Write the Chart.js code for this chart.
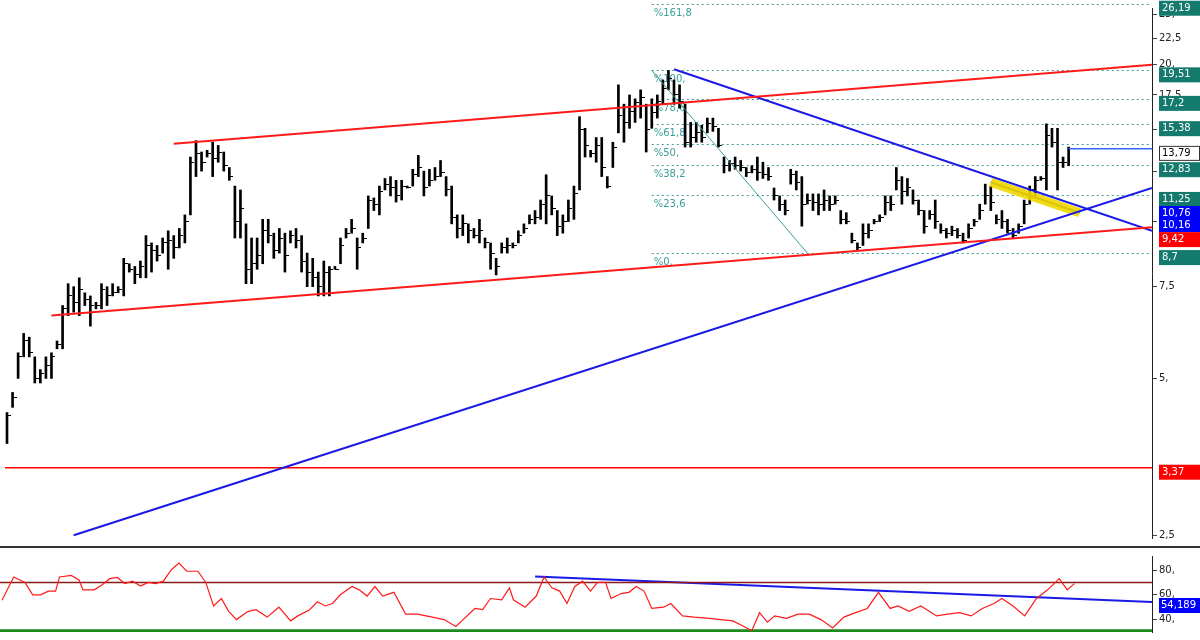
<!DOCTYPE html>
<html>
<head>
<meta charset="utf-8">
<script src="https://cdn.jsdelivr.net/npm/chart.js@4/dist/chart.umd.min.js"></script>
<style>
  html, body { margin: 0; padding: 0; background: #fff; }
  #main { position: relative; width: 1200px; height: 546px; }
  #rsi { position: relative; width: 1200px; height: 92px; border-top: 2px solid #333; }
</style>
</head>
<body>
<div id="main"><canvas id="priceChart"></canvas></div>
<div id="rsi"><canvas id="rsiChart"></canvas></div>
<script>
// price bars (weekly)
const highs = [4.3,4.7,5.6,6.1,6.0,5.5,5.2,5.5,5.6,5.9,6.9,7.6,7.5,7.8,7.3,7.2,7.0,7.6,7.5,7.6,7.5,8.5,8.3,8.2,8.4,9.4,9.1,9.0,9.3,9.6,9.4,9.7,10.3,13.3,14.3,13.6,13.7,14.2,14.0,13.6,12.7,11.7,11.5,9.9,9.3,9.3,10.1,10.1,9.5,9.7,9.5,9.6,9.7,9.4,8.7,8.5,8.0,8.4,8.2,
  8.2,9.3,9.7,10.1,9.3,9.5,11.2,11.1,11.7,12.1,12.2,12.0,12.0,11.7,12.6,13.4,12.5,12.6,12.7,13.1,12.2,11.7,10.3,10.3,9.9,9.7,10.1,9.3,9.1,8.5,9.1,9.3,9.1,9.6,9.9,10.3,10.5,11.0,12.3,11.2,
  10.5,10.3,11.0,11.7,15.9,15.1,13.7,14.5,14.5,12.2,14.2,18.3,16.8,17.5,17.2,17.9,16.8,17.2,17.5,18.7,19.5,18.7,18.3,16.8,
  15.5,15.5,15.3,15.8,15.8,15.1,13.3,13.1,13.3,13.1,12.7,12.8,13.3,13.0,12.7,11.6,11.2,11.0,12.6,12.5,12.2,11.3,11.3,11.3,11.5,11.2,11.2,10.5,10.4,9.5,9.1,9.9,9.9,10.1,10.3,11.2,11.2,12.7,12.2,12.1,11.5,11.0,10.5,10.5,11.0,9.9,9.7,9.8,9.7,9.5,9.9,10.1,10.8,11.8,11.7,10.3,10.5,10.1,9.7,9.9,11.0,11.7,12.2,12.2,15.4,15.1,15.1,13.3,13.9];
const lows = [3.75,4.4,5.0,5.5,5.5,4.9,4.9,5.0,5.0,5.7,5.7,6.6,6.7,6.6,6.9,6.3,6.8,6.8,6.9,7.2,7.3,7.2,8.0,7.6,7.8,7.8,8.0,8.4,8.7,8.1,8.5,8.9,9.1,10.3,12.2,12.5,13.3,12.2,13.0,12.5,12.0,9.3,9.3,7.6,7.6,8.1,8.3,9.1,8.5,8.7,8.0,9.1,8.9,8.0,7.5,7.5,7.2,7.2,7.2,
  8.1,8.3,9.3,9.5,8.1,9.1,9.7,10.5,10.3,11.5,11.2,10.9,11.0,11.6,11.7,12.2,11.2,11.7,12.0,12.2,11.2,9.9,9.3,9.4,9.1,9.3,9.1,8.9,8.1,7.9,8.7,8.7,8.9,9.1,9.5,9.9,9.9,10.1,9.9,10.3,
  9.4,9.5,10.0,10.1,11.5,13.3,13.3,13.0,12.2,11.6,12.7,14.8,14.2,15.1,15.5,15.8,13.6,15.1,15.8,16.8,17.9,16.8,16.5,13.9,
  13.9,14.2,14.2,14.8,14.9,13.9,12.4,12.5,12.6,12.5,12.2,12.4,12.0,12.1,12.0,11.0,10.5,10.3,11.8,11.5,9.8,10.8,10.5,10.3,10.5,10.5,10.8,9.9,9.9,9.1,8.8,9.0,9.3,9.9,10.0,10.3,10.5,11.5,10.8,11.2,10.8,10.3,9.5,10.1,9.7,9.5,9.3,9.4,9.3,9.1,9.3,9.8,10.1,10.8,10.5,9.9,9.7,9.5,9.3,9.5,9.9,10.8,11.2,12.0,11.5,13.9,11.5,12.7,12.8];
const closes = [4.25,4.6,5.5,5.9,5.6,5.0,5.1,5.3,5.5,5.8,6.8,7.2,7.0,7.4,7.1,6.9,6.9,7.4,7.2,7.3,7.4,8.3,8.1,7.9,8.2,9.0,8.8,8.6,9.1,9.2,8.9,9.4,10.0,13.0,13.5,13.0,13.5,13.2,13.6,12.8,12.2,10.0,10.6,8.1,8.3,8.6,9.6,9.4,8.8,9.3,8.6,9.4,9.2,8.4,8.0,7.8,7.5,8.0,8.1,
  8.1,9.0,9.5,9.7,8.9,9.3,11.0,10.8,11.4,11.8,11.6,11.2,11.7,11.6,12.3,12.7,11.6,12.0,12.2,12.4,11.5,10.2,9.7,9.9,9.6,9.4,9.6,9.1,8.7,8.2,8.9,9.0,9.0,9.4,9.7,10.1,10.2,10.8,11.2,10.6,
  9.8,10.0,10.6,11.3,15.0,14.0,13.5,14.0,12.7,11.7,13.9,16.0,15.5,16.3,16.9,17.3,15.0,16.2,17.0,18.0,18.8,17.5,17.0,14.2,
  14.5,14.8,14.5,15.4,15.2,14.0,12.8,12.9,12.8,12.7,12.4,12.6,12.4,12.3,12.2,11.2,10.8,10.5,12.3,11.9,10.8,11.0,10.9,10.8,11.0,10.8,11.0,10.1,10.0,9.2,8.9,9.5,9.6,10.0,10.2,10.9,10.8,12.0,11.4,11.6,11.0,10.5,9.8,10.3,10.0,9.6,9.5,9.6,9.4,9.2,9.7,10.0,10.5,11.2,10.9,10.1,10.0,9.6,9.4,9.8,10.8,11.5,12.0,12.1,14.6,14.2,13.0,13.0,13.79];

// RSI line: bar position and value
const rsiBars = [0,2.1,4.1,5.5,6.9,8.3,9.6,10.3,12.4,13.8,14.5,16.5,17.9,19.3,20.7,22.0,23.4,24.8,26.2,27.5,28.9,30.3,31.7,33.1,35.1,36.5,37.9,39.3,40.6,42.0,44.1,45.5,47.5,49.6,51.7,53.0,55.1,56.5,57.9,59.2,60.6,62.7,64.0,65.4,66.8,68.2,70.2,72.3,74.4,77.1,79.2,81.3,82.6,84.7,86.1,87.5,89.5,90.9,91.6,93.7,95.7,97.1,98.5,99.9,101.2,102.6,104.0,105.4,106.7,108.1,109.1,110.9,112.3,113.6,115.0,116.4,118.5,119.8,121.9,124.0,126.7,128.8,130.9,132.9,134.3,135.7,137.1,138.4,140.5,142.6,144.6,146.7,148.8,150.8,152.9,155.0,157.0,159.1,160.5,162.5,164.6,167.4,169.4,171.5,173.6,175.6,177.7,179.1,181.1,183.2,185.3,187.3,189.4,190.8,192.1];
const rsiValues = [55.6,74.4,70,60,60,63,63,74.4,75.6,72,64,64,68,73,74,69,71,67,70,69,71,80,85.6,79,79,70,51,57,46.7,40,46.7,48,42,50,39,43,48,54.4,51,53,60,66.7,64,59,66.7,59,62,44.4,44.4,42,40,34.4,40,49,48,57,56,65.6,56,50,59,74.4,65.6,63,53,66.7,71,63,70,70,57,61,62,66.7,63,49,50,53,43,42,41,40,39,34.4,31,45.6,38,43,41,44.4,44.4,40,33.3,42,45.6,49,62,49,51,46.7,51,43,44.4,45.6,43,49,53,57,51,43,57,64,73,64,69];

// fibonacci retracement
const fibLevels = [0, 23.6, 38.2, 50, 61.8, 78.6, 100, 161.8];
const fibLow = 8.7, fibHigh = 19.51;
const fibStartBar = 116;

// trend lines [bar, price]
const upperChannel = [[30, 14.1], [206, 20.0]];
const lowerChannel = [[8, 6.6], [206, 9.75]];
const risingLine = [[12, 2.5], [206, 11.6]];
const fallingLine = [[120, 19.6], [206, 9.6]];
const fibDiagonal = [[116, 19.5], [144, 8.7]];
const breakLine = [[177, 11.9], [193, 10.4]];
const lastPrice = 13.79;
const supportLevel = 3.37;
const rsiTrend = [[95.5, 74.7], [206, 54.2]];

// price-axis tags: value, text, colour
const tagValues = [26.19, 19.51, 17.2, 15.38, 13.79, 12.83, 11.25, 10.16, 9.42, 8.7, 3.37];
const tagTexts = ['26,19', '19,51', '17,2', '15,38', '13,79', '12,83', '11,25', '10,76\n10,16', '9,42', '8,7', '3,37'];
const tagColors = ['#147a6e', '#147a6e', '#147a6e', '#147a6e', '#fff', '#147a6e', '#147a6e', '#0000ff', '#ff0000', '#147a6e', '#ff0000'];

const priceTicks = [2.5, 5, 7.5, 10, 12.5, 15, 17.5, 20, 22.5, 25];
const rsiTicks = [40, 60, 80];

const FONT = '"DejaVu Sans", Verdana, sans-serif';
const fmt = v => String(v).replace('.', ',') + (Number.isInteger(v) ? ',' : '');
const pts = arr => arr.map(p => ({ x: p[0], y: p[1] }));
const X_MIN = -0.36, X_MAX = 206;

// close tick drawn to the right of the bar
const tick = document.createElement('canvas');
tick.width = 8; tick.height = 1;
tick.getContext('2d').fillRect(4, 0, 4, 1);

const n = Math.min(highs.length, lows.length, closes.length);
const barData = [], closeData = [];
for (let i = 0; i < n; i++) {
  barData.push({ x: i, y: [lows[i], highs[i]] });
  closeData.push({ x: i, y: closes[i] });
}

function line(data, color, width, extra) {
  return Object.assign({
    type: 'line', data: pts(data), borderColor: color, borderWidth: width,
    pointRadius: 0, fill: false, tension: 0
  }, extra || {});
}

const overlayPlugin = {
  id: 'overlay',
  beforeDatasetsDraw(chart) {
    const { ctx, chartArea, scales: { x, y } } = chart;
    ctx.save();
    ctx.strokeStyle = '#3a9e9a';
    ctx.fillStyle = '#3a9e9a';
    ctx.lineWidth = 1;
    ctx.setLineDash([2, 3]);
    ctx.font = '10px ' + FONT;
    const x0 = x.getPixelForValue(fibStartBar);
    for (const lv of fibLevels) {
      const v = fibLow + (fibHigh - fibLow) * lv / 100;
      const py = Math.round(y.getPixelForValue(v)) + 0.5;
      ctx.beginPath(); ctx.moveTo(x0, py); ctx.lineTo(chartArea.right, py); ctx.stroke();
      ctx.fillText('%' + fmt(lv), x0 + 2, Math.max(py + 11, 6));
    }
    ctx.restore();
  },
  afterDraw(chart) {
    const { ctx, chartArea, scales: { y } } = chart;
    ctx.save();
    ctx.font = '10px ' + FONT;
    ctx.textBaseline = 'middle';
    const bx = chartArea.right + 7;
    tagValues.forEach((v, i) => {
      const py = y.getPixelForValue(v);
      const two = tagTexts[i].includes('\n');
      const h = two ? 26 : 15;
      const top = two ? py - 12 : py - 3;
      ctx.fillStyle = tagColors[i];
      ctx.fillRect(bx, top, 1200 - bx, h);
      if (tagColors[i] === '#fff') {
        ctx.strokeStyle = '#333'; ctx.strokeRect(bx + 0.5, top + 0.5, 40, h - 1);
        ctx.fillStyle = '#000';
      } else ctx.fillStyle = '#fff';
      tagTexts[i].split('\n').forEach((t, k) => ctx.fillText(t, bx + 3, top + 7.5 + k * 12));
    });
    ctx.restore();
  }
};

new Chart(document.getElementById('priceChart'), {
  data: {
    datasets: [
      { type: 'bar', data: barData, backgroundColor: '#000', barThickness: 2, grouped: false, order: 1 },
      { type: 'scatter', data: closeData, pointStyle: tick, pointRadius: 4, order: 1 },
      line(upperChannel, '#ff1a1a', 2),
      line(lowerChannel, '#ff1a1a', 2),
      line(risingLine, '#1a1ae6', 2),
      line(fallingLine, '#1a1ae6', 2),
      line(fibDiagonal, '#3a9e9a', 1),
      line(breakLine, 'rgba(240,215,0,0.9)', 9),
      line(breakLine, '#222', 2),
      line([[n - 1, lastPrice], [X_MAX, lastPrice]], '#3366ff', 1.5),
      line([[X_MIN, supportLevel], [X_MAX, supportLevel]], '#ff0000', 1.5)
    ]
  },
  options: {
    responsive: true, maintainAspectRatio: false, animation: false,
    layout: { padding: 0 },
    plugins: { legend: { display: false }, tooltip: { enabled: false } },
    scales: {
      x: { type: 'linear', min: X_MIN, max: X_MAX, offset: false, bounds: 'ticks', display: false },
      y: {
        type: 'logarithmic', position: 'right', min: 2.47, max: 25.7,
        afterBuildTicks: s => { s.ticks = priceTicks.map(v => ({ value: v })); },
        afterFit: s => { s.width = 48; },
        border: { color: '#222', width: 1 },
        grid: { drawOnChartArea: false, tickLength: 5, color: '#444' },
        ticks: { color: '#222', font: { size: 10, family: FONT }, padding: 2, callback: v => fmt(v) }
      }
    }
  },
  plugins: [overlayPlugin]
});

const rsiTagPlugin = {
  id: 'rsiTag',
  afterDraw(chart) {
    const { ctx, chartArea, scales: { y } } = chart;
    const py = y.getPixelForValue(rsiTrend[1][1]);
    ctx.save();
    ctx.fillStyle = '#0000ff';
    ctx.fillRect(chartArea.right + 7, py - 4, 60, 15);
    ctx.fillStyle = '#fff';
    ctx.font = '10px ' + FONT;
    ctx.textBaseline = 'middle';
    ctx.fillText('54,189', chartArea.right + 9, py + 3.5);
    ctx.restore();
  }
};

new Chart(document.getElementById('rsiChart'), {
  data: {
    datasets: [
      line(rsiBars.map((b, i) => [b, rsiValues[i]]), '#ff1a1a', 1.2),
      line([[X_MIN, 70], [X_MAX, 70]], '#8b1a1a', 1.5),
      line([[X_MIN, 31], [X_MAX, 31]], '#1a8a1a', 3),
      line(rsiTrend, '#1a1ae6', 2)
    ]
  },
  options: {
    responsive: true, maintainAspectRatio: false, animation: false,
    layout: { padding: 0 },
    plugins: { legend: { display: false }, tooltip: { enabled: false } },
    scales: {
      x: { type: 'linear', min: X_MIN, max: X_MAX, display: false },
      y: {
        position: 'right', min: 30, max: 91.3,
        afterBuildTicks: s => { s.ticks = rsiTicks.map(v => ({ value: v })); },
        afterFit: s => { s.width = 48; },
        border: { color: '#222', width: 1 },
        grid: { drawOnChartArea: false, tickLength: 5, color: '#444' },
        ticks: { color: '#222', font: { size: 10, family: FONT }, padding: 2, callback: v => fmt(v) }
      }
    }
  },
  plugins: [rsiTagPlugin]
});
</script>
</body>
</html>
